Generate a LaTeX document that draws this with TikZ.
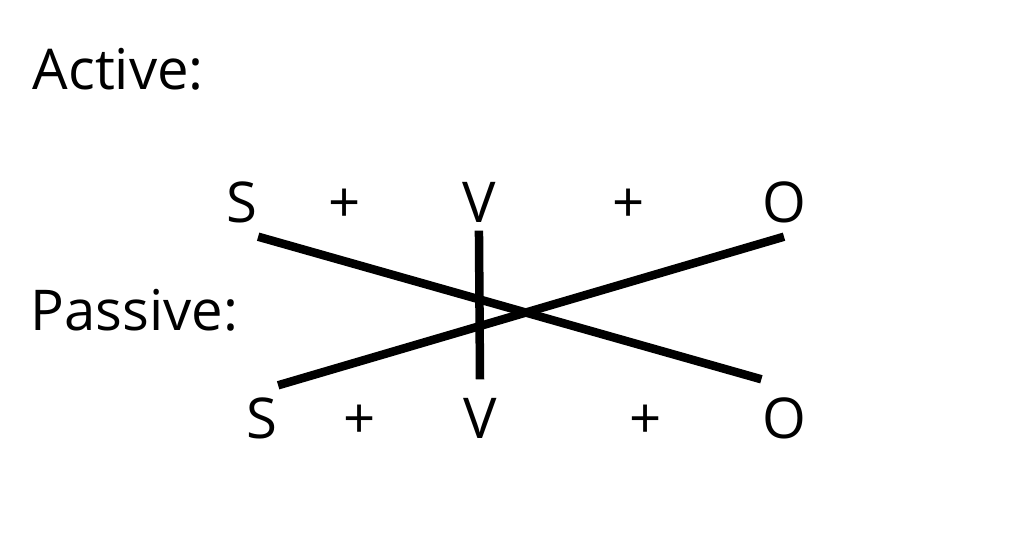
\documentclass[tikz,border=0pt]{standalone}
\usepackage{fontspec}
\setmainfont{Open Sans}
\tikzset{
    label text/.style={inner sep=0pt, anchor=base west, font=\fontsize{16}{19}\selectfont},
    word/.style={inner sep=0pt, anchor=base, font=\fontsize{16}{19}\selectfont},
    top word/.style={word, text height=0.40cm, text depth=0.14cm},
    low word/.style={word, text height=0.58cm, text depth=0pt},
    bar/.style={line width=0.085cm}
}
\begin{document}
\begin{tikzpicture}
\useasboundingbox (0,0) rectangle (10.24,5.42);

\node[label text] (active) at (0.32,4.52) {Active:};
\node[label text] (passive) at (0.30,2.12) {Passive:};

% active order
\node[top word] (s1) at (2.42,3.20) {S};
\node[top word] (plusa) at (3.45,3.20) {+};
\node[top word] (v1) at (4.79,3.20) {V};
\node[top word] (plusb) at (6.29,3.20) {+};
\node[top word] (o1) at (7.84,3.20) {O};

% passive order
\node[low word, text height=0.52cm] (s2) at (2.62,1.04) {S};
\node[low word] (plusc) at (3.60,1.04) {+};
\node[low word] (v2) at (4.80,1.04) {V};
\node[low word] (plusd) at (6.46,1.04) {+};
\node[low word] (o2) at (7.84,1.04) {O};

\draw[bar] (s1.south east) -- (o2.north west);
\draw[bar] (s2.north east) -- (o1.south);
\draw[bar, shorten <=-0.06cm] (v1.south) -- (v2.north);
\end{tikzpicture}
\end{document}
